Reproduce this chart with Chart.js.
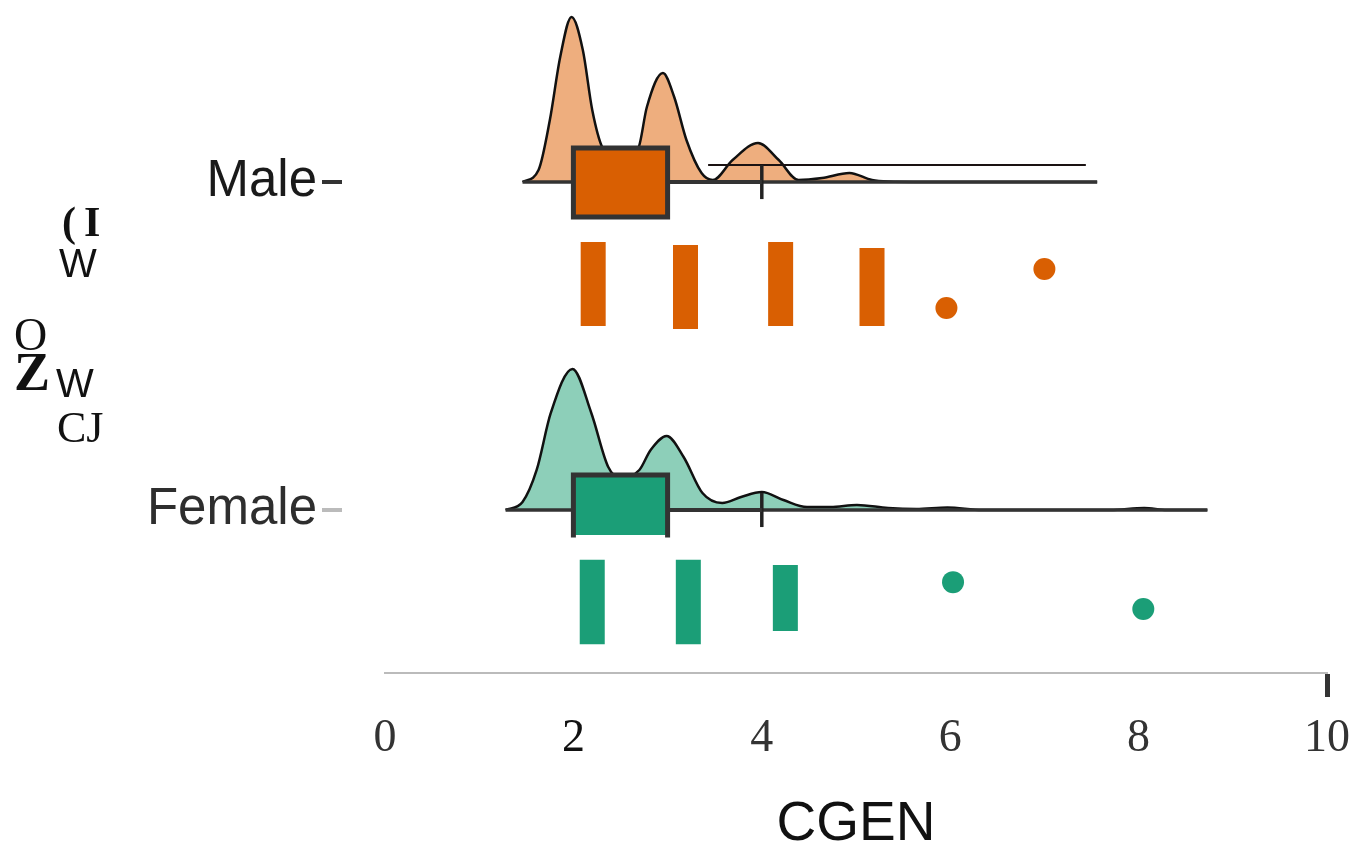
<!DOCTYPE html>
<html>
<head>
<meta charset="utf-8">
<script src="https://cdn.jsdelivr.net/npm/chart.js@4.4.1/dist/chart.umd.min.js"></script>
<style>
  html, body { margin: 0; padding: 0; background: #fff; }
  #wrap { width: 1356px; height: 847px; position: relative; }
</style>
</head>
<body>
<div id="wrap"><canvas id="myChart"></canvas></div>
<script>
// rows on the y axis
const groups = ['Female', 'Male'];
const groupRows = [1, 2];
const xTicks = [0, 2, 4, 6, 8, 10];

// density clouds (CGEN value -> density)
const maleDensX = [1.46, 1.63, 1.75, 1.86, 1.98, 2.10, 2.20, 2.31, 2.50, 2.69, 2.78, 2.95, 3.07, 3.20, 3.36, 3.48, 3.69, 3.96, 4.18, 4.39, 4.64, 4.93, 5.17, 5.34, 6.00, 7.56];
const maleDensY = [0, 0.06, 0.31, 0.625, 0.825, 0.66, 0.36, 0.17, 0.11, 0.17, 0.375, 0.545, 0.425, 0.21, 0.045, 0.01, 0.11, 0.195, 0.11, 0.01, 0.02, 0.045, 0.01, 0.003, 0, 0];
const femaleDensX = [1.28, 1.46, 1.61, 1.76, 1.99, 2.19, 2.37, 2.50, 2.70, 2.82, 2.99, 3.17, 3.37, 3.58, 3.78, 4.00, 4.23, 4.48, 4.73, 5.01, 5.34, 5.64, 5.97, 6.34, 7.70, 8.06, 8.30, 8.73];
const femaleDensY = [0, 0.04, 0.20, 0.485, 0.705, 0.485, 0.215, 0.16, 0.20, 0.30, 0.37, 0.265, 0.085, 0.035, 0.065, 0.09, 0.05, 0.015, 0.015, 0.025, 0.01, 0.005, 0.0125, 0, 0, 0.01, 0, 0];

// box plot stats [Female, Male]
const boxQ1 = [2, 2];
const boxQ3 = [3, 3];
const whiskerHi = [4, 4];
const rangeMin = [1.28, 1.46];
const rangeMax = [8.73, 7.56];

// rain (jittered raw values): x value, vertical spread
const maleRainX = [2.21, 3.19, 4.20, 5.17];
const maleRainLo = [1.561, 1.552, 1.561, 1.561];
const maleRainHi = [1.817, 1.808, 1.817, 1.799];
const maleDotX = [5.96, 7.00];
const maleDotY = [1.616, 1.735];
const femaleRainX = [2.20, 3.22, 4.25];
const femaleRainLo = [0.591, 0.591, 0.631];
const femaleRainHi = [0.848, 0.848, 0.832];
const femaleDotX = [6.03, 8.05];
const femaleDotY = [0.780, 0.698];

// odd reference segment above the male cloud
const maleRefX = [3.43, 7.44];
const maleRefY = 2.052;

// styling
const cloudScale = 0.61;
const boxLo = [0.076, 0.107];   // below baseline
const boxHi = [0.107, 0.104];   // above baseline
const capHalf = 0.052;
const darkCol = ['#1B9E77', '#D95F02'];
const lightCol = ['#8DCFB9', '#EEAE7E'];

function cloud(xs, ys, base) {
  return xs.map((x, i) => ({ x: x, y: base + ys[i] * cloudScale }));
}

const datasets = [];
[0, 1].forEach(g => {
  const base = groupRows[g];
  const dx = g === 1 ? maleDensX : femaleDensX;
  const dy = g === 1 ? maleDensY : femaleDensY;
  const lo = base - boxLo[g], hi = base + boxHi[g];
  // cloud
  datasets.push({
    type: 'line', order: 6,
    data: cloud(dx, dy, base),
    borderColor: '#111', borderWidth: 2.5,
    backgroundColor: lightCol[g],
    fill: { value: base },
    cubicInterpolationMode: 'monotone',
    pointRadius: 0
  });
  // baseline across the data range
  datasets.push({
    type: 'line', order: 3,
    data: [{ x: rangeMin[g], y: base }, { x: rangeMax[g], y: base }],
    borderColor: '#333', borderWidth: 3.5, pointRadius: 0, fill: false
  });
  // box fill (Q1..Q3)
  datasets.push({
    type: 'line', order: 2,
    data: [{ x: boxQ1[g], y: hi }, { x: boxQ3[g], y: hi }],
    borderWidth: 0, borderColor: 'rgba(0,0,0,0)',
    backgroundColor: darkCol[g],
    fill: { value: lo },
    pointRadius: 0
  });
  // box outline (female box bottom edge is hidden in the original)
  const outline = g === 1
    ? [{ x: boxQ1[g], y: lo }, { x: boxQ1[g], y: hi }, { x: boxQ3[g], y: hi }, { x: boxQ3[g], y: lo }, { x: boxQ1[g], y: lo }]
    : [{ x: boxQ1[g], y: lo }, { x: boxQ1[g], y: hi }, { x: boxQ3[g], y: hi }, { x: boxQ3[g], y: lo }];
  datasets.push({
    type: 'line', order: 1,
    data: outline,
    borderColor: '#333', borderWidth: 5, borderJoinStyle: 'miter', borderCapStyle: 'square',
    pointRadius: 0, fill: false
  });
  // whisker + cap
  datasets.push({
    type: 'line', order: 1,
    data: [{ x: boxQ3[g], y: base }, { x: whiskerHi[g], y: base }],
    borderColor: '#333', borderWidth: 4, pointRadius: 0, fill: false
  });
  datasets.push({
    type: 'line', order: 1,
    data: [{ x: whiskerHi[g], y: base - capHalf }, { x: whiskerHi[g], y: base + capHalf }],
    borderColor: '#222', borderWidth: 3.5, pointRadius: 0, fill: false
  });
  // rain strips: vertical segments, broken by nulls
  const rx = g === 1 ? maleRainX : femaleRainX;
  const rlo = g === 1 ? maleRainLo : femaleRainLo;
  const rhi = g === 1 ? maleRainHi : femaleRainHi;
  const strips = [];
  rx.forEach((x, i) => {
    strips.push({ x: x, y: rlo[i] }, { x: x, y: rhi[i] }, { x: x, y: null });
  });
  datasets.push({
    type: 'line', order: 4,
    data: strips, spanGaps: false,
    borderColor: darkCol[g], borderWidth: 25, borderCapStyle: 'butt',
    pointRadius: 0, fill: false
  });
  const px = g === 1 ? maleDotX : femaleDotX;
  const py = g === 1 ? maleDotY : femaleDotY;
  datasets.push({
    type: 'scatter', order: 4,
    data: px.map((x, i) => ({ x: x, y: py[i] })),
    backgroundColor: darkCol[g], borderWidth: 0, pointRadius: 11, pointHoverRadius: 11
  });
});
datasets.push({
  type: 'line', order: 1,
  data: [{ x: maleRefX[0], y: maleRefY }, { x: maleRefX[1], y: maleRefY }],
  borderColor: '#1a1212', borderWidth: 2, pointRadius: 0, fill: false
});

// y tick dashes and the broken axis title
const extras = {
  id: 'extras',
  afterDraw(chart) {
    const ctx = chart.ctx;
    const y = chart.scales.y;
    ctx.save();
    groupRows.forEach((r, i) => {
      ctx.fillStyle = i === 1 ? '#333' : '#bbb';
      ctx.fillRect(322, Math.round(y.getPixelForValue(r)) - 2, 20, 4);
    });
    ctx.fillStyle = '#111';
    ctx.textBaseline = 'alphabetic';
    ctx.font = 'bold 42px "Liberation Serif"';
    ctx.fillText('(', 62, 236);
    ctx.fillText('I', 84, 236);
    ctx.font = '40px "Liberation Sans"';
    ctx.fillText('W', 59, 277);
    ctx.font = '46px "Liberation Serif"';
    ctx.fillText('O', 14, 350);
    ctx.font = 'bold 54px "Liberation Serif"';
    ctx.fillText('Z', 14, 390);
    ctx.font = '40px "Liberation Sans"';
    ctx.fillText('W', 56, 397);
    ctx.font = '44px "Liberation Serif"';
    ctx.fillText('CJ', 57, 442);
    ctx.restore();
  }
};

const ctx = document.getElementById('myChart').getContext('2d');
new Chart(ctx, {
  type: 'scatter',
  data: { datasets: datasets },
  options: {
    responsive: true,
    maintainAspectRatio: false,
    animation: false,
    events: [],
    layout: { autoPadding: false, padding: { left: 0, right: 29, top: 0, bottom: 0 } },
    plugins: { legend: { display: false }, tooltip: { enabled: false } },
    scales: {
      x: {
        type: 'linear', min: 0, max: 10, offset: false,
        afterBuildTicks: (axis) => { axis.ticks = xTicks.map(v => ({ value: v })); },
        afterFit: (axis) => {
          axis.height = 174;
          axis.paddingLeft = 0;
          axis.paddingRight = 0;
        },
        border: { color: '#bbb', width: 2 },
        grid: {
          offset: false,
          drawOnChartArea: false, drawTicks: true, tickLength: 24, tickWidth: 5,
          tickColor: (c) => (c.tick && c.tick.value === 10 ? '#333' : 'rgba(0,0,0,0)')
        },
        ticks: {
          autoSkip: false, maxRotation: 0, padding: 14,
          color: (c) => (c.tick && c.tick.value === 2 ? '#111' : '#333'),
          font: { family: 'Liberation Serif', size: 46 }
        },
        title: {
          display: true, text: 'CGEN', color: '#111',
          font: { family: 'Liberation Sans', size: 55, lineHeight: 1 },
          padding: { top: 0, bottom: -5 }
        }
      },
      y: {
        type: 'linear', min: 0.503, max: 2.555, offset: false,
        afterBuildTicks: (axis) => { axis.ticks = groupRows.map(v => ({ value: v })); },
        afterFit: (axis) => {
          axis.width = 385;
          axis.paddingTop = 0;
          axis.paddingBottom = 0;
        },
        border: { display: false },
        grid: { display: false },
        ticks: {
          padding: 60,
          color: (c) => (c.tick && c.tick.value === 2 ? '#1a1a1a' : '#2e2e2e'),
          font: { family: 'Liberation Sans', size: 51 },
          callback: (v) => groups[groupRows.indexOf(v)]
        }
      }
    }
  },
  plugins: [extras]
});
</script>
</body>
</html>
